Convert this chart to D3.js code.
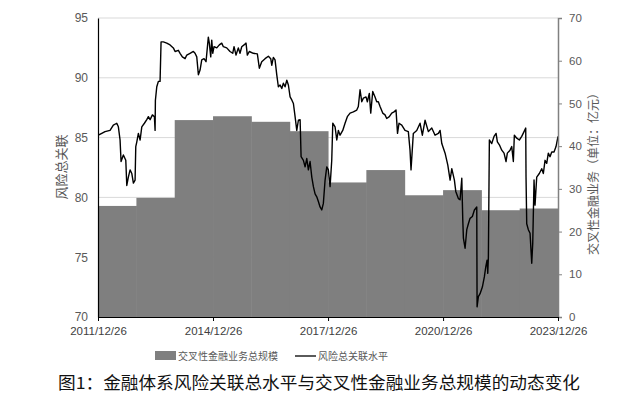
<!DOCTYPE html>
<html><head><meta charset="utf-8">
<script src="https://cdn.jsdelivr.net/npm/d3@7"></script>
<style>
html,body{margin:0;padding:0;background:#fff;}
svg{display:block;}
</style></head>
<body>
<svg id="chart" width="637" height="401"></svg>
<script>
// ---------- DATA ----------
const barYears = [2012,2013,2014,2015,2016,2017,2018,2019,2020,2021,2022,2023];
const barValues = [26.0,27.9,46.1,47.0,45.7,43.5,31.5,34.4,28.5,29.7,25.0,25.4];

const riskTimes = [
2011.992,2012.081,2012.167,2012.297,2012.383,2012.472,2012.514,2012.558,2012.584,2012.644,
2012.707,2012.733,2012.774,2012.819,2012.863,2012.905,2012.949,2012.967,2012.994,2013.035,
2013.080,2013.124,2013.192,2013.254,2013.296,2013.341,2013.401,2013.453,2013.471,2013.479,
2013.515,2013.557,2013.601,2013.627,2013.687,2013.776,2013.862,2013.948,2013.993,2014.079,
2014.123,2014.183,2014.254,2014.298,2014.384,2014.470,2014.514,2014.559,2014.601,2014.645,
2014.689,2014.749,2014.801,2014.861,2014.887,2014.924,2014.950,2014.976,2015.010,2015.081,
2015.148,2015.211,2015.253,2015.341,2015.427,2015.498,2015.532,2015.584,2015.644,2015.688,
2015.733,2015.793,2015.845,2015.879,2015.931,2016.035,2016.140,2016.192,2016.254,2016.341,
2016.427,2016.489,2016.515,2016.557,2016.601,2016.646,2016.687,2016.732,2016.776,2016.818,
2016.862,2016.907,2016.948,2016.993,2017.037,2017.079,2017.123,2017.167,2017.209,2017.254,
2017.280,2017.340,2017.384,2017.428,2017.470,2017.514,2017.559,2017.601,2017.645,2017.689,
2017.731,2017.775,2017.820,2017.861,2017.906,2017.950,2017.992,2018.036,2018.080,2018.107,
2018.167,2018.211,2018.253,2018.297,2018.367,2018.427,2018.487,2018.558,2018.644,2018.733,
2018.774,2018.819,2018.863,2018.905,2018.975,2019.009,2019.061,2019.098,2019.150,2019.210,
2019.254,2019.296,2019.341,2019.411,2019.471,2019.515,2019.583,2019.646,2019.706,2019.758,
2019.797,2019.836,2019.907,2019.993,2020.079,2020.123,2020.149,2020.209,2020.298,2020.384,
2020.444,2020.514,2020.601,2020.689,2020.775,2020.861,2020.906,2020.950,2021.036,2021.107,
2021.167,2021.211,2021.279,2021.315,2021.383,2021.427,2021.472,2021.498,2021.514,2021.558,
2021.602,2021.644,2021.688,2021.748,2021.801,2021.863,2021.871,2021.905,2021.949,2022.009,
2022.061,2022.098,2022.132,2022.150,2022.166,2022.192,2022.254,2022.314,2022.367,2022.401,
2022.453,2022.515,2022.575,2022.627,2022.661,2022.732,2022.776,2022.818,2022.844,2022.907,
2022.974,2023.037,2023.097,2023.141,2023.149,2023.167,2023.209,2023.254,2023.298,2023.324,
2023.358,2023.384,2023.428,2023.496,2023.559,2023.601,2023.645,2023.689,2023.731,2023.775,
2023.820,2023.880,2023.932,2023.984];
const riskValues = [
85.2,85.35,85.5,85.6,86.05,86.2,85.9,84.8,83.0,83.55,
83.1,81.0,81.7,82.3,82.0,81.2,81.45,84.25,84.65,85.35,
84.8,85.9,86.2,86.5,86.75,86.5,86.9,86.75,85.6,88.1,
89.25,89.7,89.7,93.0,93.0,92.9,92.75,92.5,92.2,92.3,
92.05,91.75,91.6,91.9,92.05,92.2,92.05,91.75,90.25,90.65,
91.5,91.6,91.35,93.4,92.9,91.75,93.15,92.05,92.6,92.5,
92.75,92.9,92.6,92.5,92.2,92.05,92.6,91.9,92.5,92.05,
92.6,92.75,92.9,91.9,92.2,92.05,92.0,90.8,91.35,91.6,
91.8,91.6,91.05,91.7,91.5,90.25,89.25,89.4,89.1,89.55,
89.25,89.8,89.4,88.4,88.15,87.85,86.75,85.6,86.45,86.5,
83.4,83.1,82.55,83.25,82.3,83.0,81.7,80.9,80.3,80.05,
79.65,79.2,78.95,79.5,81.45,82.55,82.3,80.9,83.1,86.2,
85.9,84.8,85.6,85.2,85.6,86.2,86.75,87.05,87.15,87.3,
87.6,89.0,88.0,88.3,88.4,88.0,88.7,87.05,88.85,88.4,
88.0,88.0,87.6,87.05,86.9,86.6,86.75,87.05,87.15,87.3,
85.35,86.2,86.05,85.6,85.5,83.95,82.3,85.35,85.6,86.2,
85.2,86.45,85.5,85.8,85.2,85.35,85.6,84.5,83.7,82.7,
81.45,82.4,81.45,80.5,79.9,79.8,81.6,78.1,76.6,75.75,
77.3,77.8,78.25,78.4,78.95,79.2,70.85,71.7,71.95,72.5,
73.35,74.2,74.75,73.65,75.0,84.8,84.5,85.1,85.35,84.65,
84.4,83.95,83.7,83.0,83.7,83.95,84.25,83.0,85.2,84.95,
84.8,85.1,85.5,85.8,81.7,77.8,77.3,77.0,74.5,76.15,
81.45,79.35,81.7,82.0,82.4,82.0,83.1,82.85,83.7,83.4,
83.8,83.8,84.25,85.1];

const xTickLabels = ["2011/12/26","2014/12/26","2017/12/26","2020/12/26","2023/12/26"];
const leftTicks = [70,75,80,85,90,95];
const rightTicks = [0,10,20,30,40,50,60,70];
const leftTitle = "风险总关联";
const rightTitle = "交叉性金融业务（单位：亿元）";
const legendLabels = ["交叉性金融业务总规模","风险总关联水平"];
const chartTitle = "图1：金融体系风险关联总水平与交叉性金融业务总规模的动态变化";

// ---------- HELPERS ----------
function decYear(t){
  const y = Math.floor(t);
  const s = Date.UTC(y,0,1), e = Date.UTC(y+1,0,1);
  return new Date(s + (t - y) * (e - s));
}
const parseTick = d3.utcParse("%Y/%m/%d");
const tickDates = xTickLabels.map(parseTick);

// ---------- LAYOUT ----------
const svg = d3.select("#chart");
const L = 98, R = 558, T = 18, B = 317;
const sans = "'Liberation Sans', Arial, sans-serif";
const cjk = "'Noto Sans CJK SC', sans-serif";

const x = d3.scaleUtc().domain([tickDates[0], tickDates[tickDates.length-1]]).range([L, R]);
const yL = d3.scaleLinear().domain([70,95]).range([B, T]);
const yR = d3.scaleLinear().domain([0,70]).range([B, T]);

// gridlines
svg.append("g").selectAll("line").data(leftTicks.slice(1)).join("line")
  .attr("x1", L).attr("x2", R)
  .attr("y1", d => yL(d)).attr("y2", d => yL(d))
  .attr("stroke", "#d9d9d9").attr("stroke-width", 1);

// bars (step blocks, one per year)
const barData = barYears.map((yr,i) => ({
  start: parseTick((yr-1) + "/12/26"),
  end: parseTick(yr + "/12/26"),
  v: barValues[i]
}));
svg.append("g").selectAll("rect").data(barData).join("rect")
  .attr("x", d => x(d.start))
  .attr("width", d => x(d.end) - x(d.start) + 0.5)
  .attr("y", d => yR(d.v))
  .attr("height", d => yR(0) - yR(d.v))
  .attr("fill", "#7f7f7f");

// risk line
const riskData = riskTimes.map((t,i) => ({d: decYear(t), v: riskValues[i]}));
svg.append("path").datum(riskData)
  .attr("fill", "none").attr("stroke", "#000").attr("stroke-width", 1.4)
  .attr("stroke-linejoin", "round")
  .attr("d", d3.line().x(d => x(d.d)).y(d => yL(d.v)));

// left axis
const gL = svg.append("g").attr("transform", `translate(${L},0)`)
  .call(d3.axisLeft(yL).tickValues(leftTicks).tickSize(0).tickPadding(10));
gL.select(".domain").attr("stroke", "#000").attr("stroke-width", 1.2);
gL.selectAll("text").attr("font-family", sans).attr("font-size", 12).attr("fill", "#595959");

// right axis
const gR = svg.append("g").attr("transform", `translate(${R},0)`)
  .call(d3.axisRight(yR).tickValues(rightTicks).tickSize(4).tickPadding(7));
gR.select(".domain").attr("stroke", "#808080").attr("stroke-width", 1.5);
gR.selectAll(".tick line").attr("stroke", "#808080");
gR.selectAll("text").attr("font-family", sans).attr("font-size", 11.5).attr("fill", "#595959");

// bottom axis
const gB = svg.append("g").attr("transform", `translate(0,${B})`)
  .call(d3.axisBottom(x).tickValues(tickDates).tickFormat((d,i) => xTickLabels[i]).tickSize(4).tickSizeOuter(0).tickPadding(6));
gB.select(".domain").attr("stroke", "#000").attr("stroke-width", 1.2);
gB.selectAll(".tick line").attr("stroke", "#000");
gB.selectAll("text").attr("font-family", sans).attr("font-size", 11.5).attr("fill", "#404040");

// axis titles
svg.append("text").text(leftTitle)
  .attr("transform", `translate(66,167) rotate(-90)`)
  .attr("text-anchor", "middle").attr("font-family", cjk).attr("font-size", 13)
  .attr("fill", "#595959");
svg.append("text").text(rightTitle)
  .attr("transform", `translate(598,171) rotate(-90)`)
  .attr("text-anchor", "middle").attr("font-family", cjk).attr("font-size", 12)
  .attr("fill", "#595959");

// legend
const lg = svg.append("g");
lg.append("rect").attr("x", 155).attr("y", 351).attr("width", 21).attr("height", 9).attr("fill", "#7f7f7f");
lg.append("text").text(legendLabels[0]).attr("x", 178).attr("y", 359.5)
  .attr("font-family", cjk).attr("font-size", 10).attr("fill", "#595959");
lg.append("line").attr("x1", 295).attr("x2", 316).attr("y1", 356).attr("y2", 356)
  .attr("stroke", "#000").attr("stroke-width", 1.3);
lg.append("text").text(legendLabels[1]).attr("x", 318).attr("y", 359.5)
  .attr("font-family", cjk).attr("font-size", 10).attr("fill", "#595959");

// chart title
svg.append("text").text(chartTitle)
  .attr("x", 58).attr("y", 389)
  .attr("textLength", 522).attr("lengthAdjust", "spacingAndGlyphs")
  .attr("font-family", cjk).attr("font-size", 16.5).attr("fill", "#111");
</script>
</body></html>
